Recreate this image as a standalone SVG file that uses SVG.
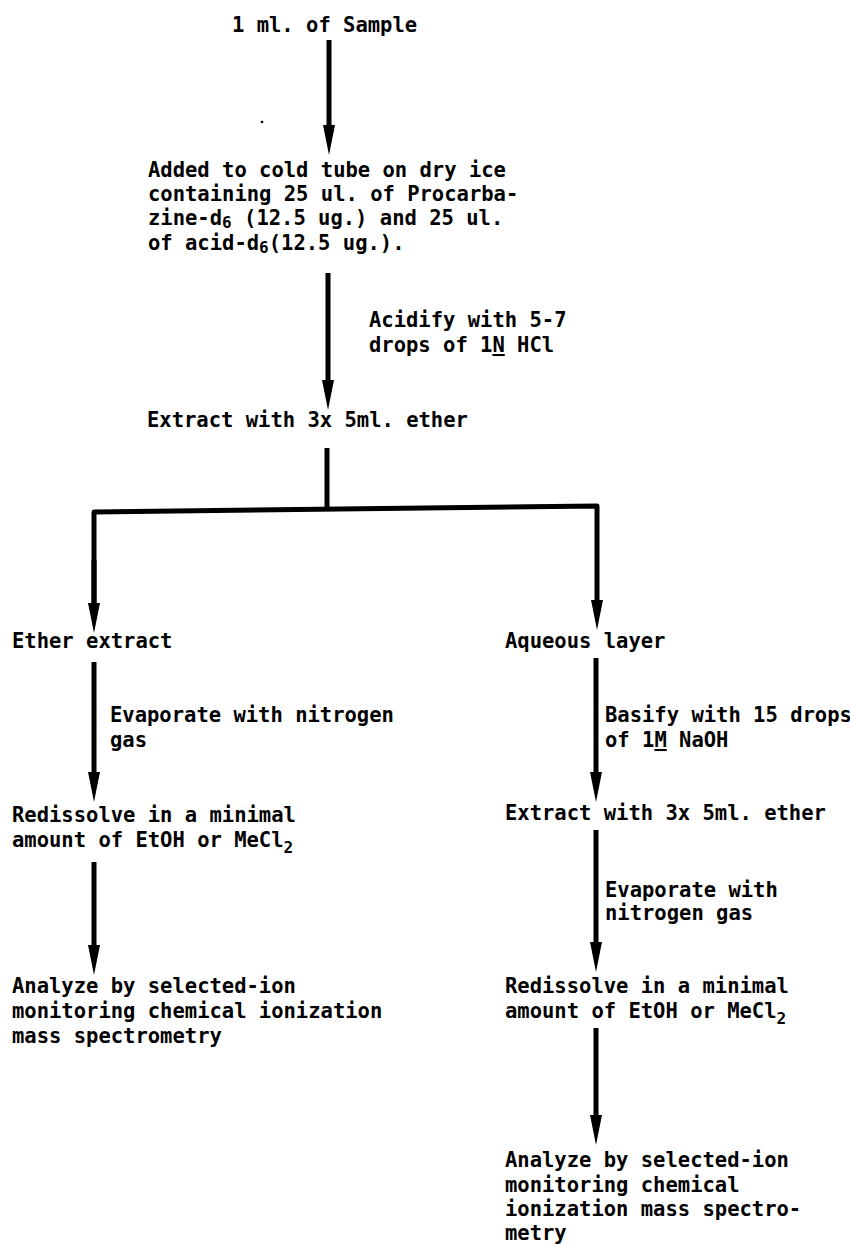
<svg xmlns="http://www.w3.org/2000/svg" width="850" height="1244" viewBox="0 0 850 1244">
<style>
text{font-family:"DejaVu Sans Mono","Liberation Mono",monospace;font-size:20.5px;font-weight:bold;fill:#000}
.c{stroke:#000;stroke-width:5;fill:none;stroke-linecap:butt;stroke-linejoin:round}
.u{text-decoration:underline}
.sub{font-size:16px}
</style>
<defs>
<marker id="ah" markerUnits="userSpaceOnUse" viewBox="0 0 30 12" markerWidth="30" markerHeight="12" refX="10" refY="6" orient="auto">
<path d="M0,0 L30,6 L0,12 Z" fill="#000"/>
</marker>
</defs>
<rect width="850" height="1244" fill="#fff"/>
<g id="connectors">
<line class="c" x1="329" y1="40" x2="329" y2="135" marker-end="url(#ah)"/>
<line class="c" x1="328" y1="273" x2="328" y2="390" marker-end="url(#ah)"/>
<path class="c" d="M327,448 L327,509"/>
<path class="c" d="M94,613 L94,512 L597,506 L597,610" marker-end="url(#ah)"/>
<line class="c" x1="94" y1="560" x2="94" y2="613" marker-end="url(#ah)"/>
<line class="c" x1="94" y1="662" x2="94" y2="782" marker-end="url(#ah)"/>
<line class="c" x1="94" y1="862" x2="94" y2="955" marker-end="url(#ah)"/>
<line class="c" x1="596" y1="658" x2="596" y2="782" marker-end="url(#ah)"/>
<line class="c" x1="596" y1="830" x2="596" y2="952" marker-end="url(#ah)"/>
<line class="c" x1="596" y1="1028" x2="596" y2="1125" marker-end="url(#ah)"/>
<circle cx="262" cy="122" r="1.3" fill="#000"/>
</g>
<g id="sample"><text x="232" y="32">1 ml. of Sample</text></g>
<g id="added">
<text x="148" y="177">Added to cold tube on dry ice</text>
<text x="148" y="201">containing 25 ul. of Procarba-</text>
<text x="148" y="225">zine-d<tspan class="sub" dy="3">6</tspan><tspan dy="-3"> (12.5 ug.) and 25 ul.</tspan></text>
<text x="148" y="250">of acid-d<tspan class="sub" dy="3">6</tspan><tspan dy="-3">(12.5 ug.).</tspan></text>
</g>
<g id="acidify">
<text x="369" y="327">Acidify with 5-7</text>
<text x="369" y="352">drops of 1<tspan class="u">N</tspan> HCl</text>
</g>
<g id="extract1"><text x="147" y="427">Extract with 3x 5ml. ether</text></g>
<g id="ether"><text x="12" y="648">Ether extract</text></g>
<g id="evap1">
<text x="110" y="722">Evaporate with nitrogen</text>
<text x="110" y="747">gas</text>
</g>
<g id="redissolve1">
<text x="12" y="822">Redissolve in a minimal</text>
<text x="12" y="847">amount of EtOH or MeCl<tspan class="sub" dy="6">2</tspan></text>
</g>
<g id="analyze1">
<text x="12" y="993">Analyze by selected-ion</text>
<text x="12" y="1018">monitoring chemical ionization</text>
<text x="12" y="1043">mass spectrometry</text>
</g>
<g id="aqueous"><text x="505" y="648">Aqueous layer</text></g>
<g id="basify">
<text x="605" y="722">Basify with 15 drops</text>
<text x="605" y="747">of 1<tspan class="u">M</tspan> NaOH</text>
</g>
<g id="extract2"><text x="505" y="820">Extract with 3x 5ml. ether</text></g>
<g id="evap2">
<text x="605" y="897">Evaporate with</text>
<text x="605" y="920">nitrogen gas</text>
</g>
<g id="redissolve2">
<text x="505" y="993">Redissolve in a minimal</text>
<text x="505" y="1018">amount of EtOH or MeCl<tspan class="sub" dy="6">2</tspan></text>
</g>
<g id="analyze2">
<text x="505" y="1167">Analyze by selected-ion</text>
<text x="505" y="1192">monitoring chemical</text>
<text x="505" y="1216">ionization mass spectro-</text>
<text x="505" y="1240">metry</text>
</g>
</svg>
